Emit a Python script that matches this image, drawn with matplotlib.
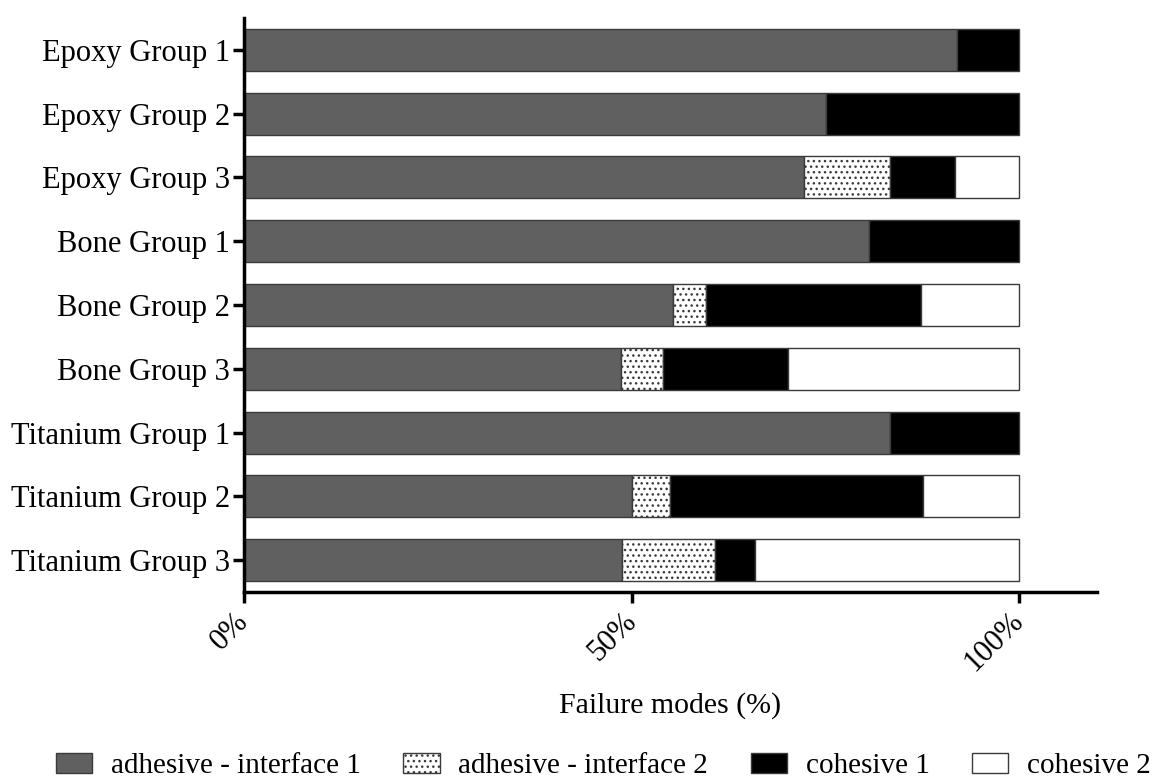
import matplotlib
matplotlib.use("Agg")
import matplotlib.pyplot as plt
import numpy as np

plt.rcParams['font.family'] = ['Liberation Serif', 'DejaVu Serif']
plt.rcParams['hatch.linewidth'] = 1.0

categories = ["Epoxy Group 1", "Epoxy Group 2", "Epoxy Group 3",
              "Bone Group 1", "Bone Group 2", "Bone Group 3",
              "Titanium Group 1", "Titanium Group 2", "Titanium Group 3"]
adhesive_1 = [91.9, 75.0, 72.2, 80.6, 55.3, 48.6, 83.3, 50.0, 48.7]
adhesive_2 = [0.0, 0.0, 11.1, 0.0, 4.3, 5.4, 0.0, 4.9, 12.1]
cohesive_1 = [8.1, 25.0, 8.4, 19.4, 27.7, 16.2, 16.7, 32.7, 5.1]
cohesive_2 = [0.0, 0.0, 8.3, 0.0, 12.7, 29.8, 0.0, 12.4, 34.1]
series_names = ["adhesive - interface 1", "adhesive - interface 2", "cohesive 1", "cohesive 2"]
xtick_labels = ["0%", "50%", "100%"]

fig = plt.figure(figsize=(11.55, 7.79), dpi=100)
ax = fig.add_axes([244/1155, 1-592/779, (1097-244)/1155, (592-18)/779])

y = np.arange(len(categories))
h = 0.66
left = np.zeros(len(categories))
styles = [dict(color="#606060", hatch=None),
          dict(color="white", hatch="..."),
          dict(color="black", hatch=None),
          dict(color="white", hatch=None)]
handles = []
for vals, name, st in zip([adhesive_1, adhesive_2, cohesive_1, cohesive_2], series_names, styles):
    vals = np.array(vals)
    mask = vals > 0
    b = ax.barh(y[mask], vals[mask], left=left[mask], height=h, color=st["color"],
                edgecolor="#3a3a3a", linewidth=1.0, hatch=st["hatch"], label=name)
    handles.append(b)
    left = left + vals

ax.set_ylim(len(categories) - 0.5, -0.5)
ax.set_xlim(0, 110)
ax.set_yticks(y)
ax.set_yticklabels(categories, fontsize=22)
ax.set_xticks([0, 50, 100])
ax.set_xticklabels(xtick_labels, fontsize=22, rotation=45, ha='right', va='center',
                   rotation_mode='anchor')
ax.set_xlabel("Failure modes (%)", fontsize=21.5, va='center')
ax.xaxis.set_label_coords(0.5, -0.197)

for s in ['top', 'right']:
    ax.spines[s].set_visible(False)
for s in ['left', 'bottom']:
    ax.spines[s].set_linewidth(2.5)
ax.tick_params(axis='both', width=2.5, length=8, direction='out', pad=2)
ax.tick_params(axis='x', pad=10)

fig.legend(handles=handles, labels=series_names, loc='center', ncol=4,
           frameon=False, fontsize=21, bbox_to_anchor=(0.5224, 1-766/779),
           handlelength=1.24, handleheight=0.69, columnspacing=1.45, handletextpad=0.65)

fig.savefig("out.png", dpi=100)
